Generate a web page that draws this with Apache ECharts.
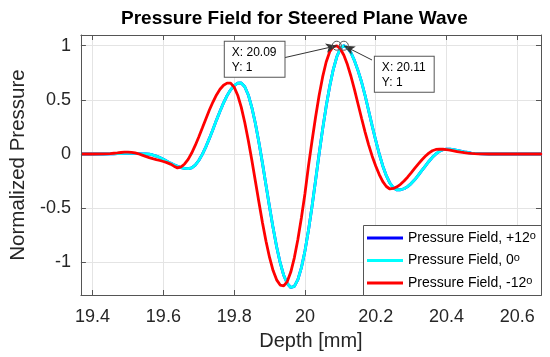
<!DOCTYPE html>
<html><head><meta charset="utf-8">
<script src="https://cdn.jsdelivr.net/npm/echarts@6/dist/echarts.min.js"></script>
<style>html,body{margin:0;padding:0;background:#fff}#c{width:550px;height:357px}</style>
</head><body><div id="c"></div>
<script>
// ---- data ----
const depth = [
  19.37, 19.40, 19.43,
  19.45, 19.46, 19.47, 19.48, 19.49, 19.50, 19.51, 19.52, 19.53, 19.54,
  19.55, 19.56, 19.57, 19.58, 19.59, 19.60, 19.61, 19.62, 19.63, 19.64,
  19.65, 19.66, 19.67, 19.68, 19.69, 19.70, 19.71, 19.72, 19.73, 19.74,
  19.75, 19.76, 19.77, 19.78, 19.79, 19.80, 19.81, 19.82, 19.83, 19.84,
  19.85, 19.86, 19.87, 19.88, 19.89, 19.90, 19.91, 19.92, 19.93, 19.94,
  19.95, 19.96, 19.97, 19.98, 19.99, 20.00, 20.01, 20.02, 20.03, 20.04,
  20.05, 20.06, 20.07, 20.08, 20.09, 20.10, 20.11, 20.12, 20.13, 20.14,
  20.15, 20.16, 20.17, 20.18, 20.19, 20.20, 20.21, 20.22, 20.23, 20.24,
  20.25, 20.26, 20.27, 20.28, 20.29, 20.30, 20.31, 20.32, 20.33, 20.34,
  20.35, 20.36, 20.37, 20.38, 20.39, 20.40, 20.41, 20.42, 20.43, 20.44,
  20.45, 20.46, 20.47, 20.48, 20.49, 20.50,
  20.52, 20.55, 20.60, 20.67
];
// steering 0 degrees (cyan)
const pressureZero = [
  0, 0, 0,
  0.001, 0.002, 0.003, 0.004, 0.005, 0.005, 0.005, 0.005, 0.004, 0.002,
  0.000, -0.002, -0.009, -0.019, -0.033, -0.049, -0.066, -0.084, -0.100, -0.114,
  -0.125, -0.132, -0.135, -0.128, -0.102, -0.060, -0.003, 0.066, 0.144, 0.227,
  0.313, 0.395, 0.472, 0.539, 0.593, 0.632, 0.654, 0.656, 0.621, 0.545,
  0.429, 0.282, 0.107, -0.086, -0.288, -0.489, -0.682, -0.857, -1.004, -1.120,
  -1.196, -1.233, -1.222, -1.160, -1.050, -0.895, -0.705, -0.485, -0.245, 0.000,
  0.230, 0.440, 0.625, 0.780, 0.898, 0.975, 1.000, 0.982, 0.935, 0.862,
  0.770, 0.665, 0.540, 0.400, 0.260, 0.125, 0.000, -0.110, -0.200, -0.268,
  -0.312, -0.332, -0.330, -0.321, -0.301, -0.273, -0.238, -0.198, -0.154, -0.111,
  -0.069, -0.031, 0.001, 0.025, 0.040, 0.045, 0.044, 0.040, 0.034, 0.027,
  0.020, 0.014, 0.009, 0.005, 0.003, 0.001,
  0, 0, 0, 0
];
// steering -12 degrees (red)
const pressureMinus12 = [
  0, 0, 0.001,
  0.004, 0.007, 0.010, 0.014, 0.017, 0.018, 0.016, 0.010, 0.002, -0.010,
  -0.022, -0.033, -0.043, -0.052, -0.060, -0.069, -0.080, -0.093, -0.112, -0.128,
  -0.119, -0.092, -0.049, 0.009, 0.079, 0.157, 0.240, 0.324, 0.406, 0.480,
  0.546, 0.598, 0.635, 0.655, 0.655, 0.618, 0.543, 0.433, 0.291, 0.125,
  -0.058, -0.252, -0.446, -0.634, -0.805, -0.955, -1.076, -1.162, -1.210, -1.218,
  -1.178, -1.090, -0.959, -0.789, -0.588, -0.367, -0.110, 0.120, 0.340, 0.540,
  0.712, 0.850, 0.944, 0.990, 1.000, 0.972, 0.912, 0.826, 0.718, 0.594,
  0.462, 0.330, 0.203, 0.085, -0.020, -0.110, -0.190, -0.255, -0.300, -0.323,
  -0.318, -0.303, -0.280, -0.249, -0.214, -0.174, -0.133, -0.093, -0.055, -0.021,
  0.008, 0.030, 0.042, 0.045, 0.044, 0.040, 0.035, 0.029, 0.023, 0.017,
  0.012, 0.008, 0.005, 0.003, 0.002, 0.001,
  0, 0, 0, 0
];
// steering +12 degrees (blue) coincides with the 0 degree curve and is hidden under it
const pressurePlus12 = pressureZero.slice();

const seriesNames = ['Pressure Field, +12', 'Pressure Field, 0', 'Pressure Field, -12'];
const seriesColors = ['#0000ff', '#00ffff', '#ff0000'];
const xTicks = [19.4, 19.6, 19.8, 20, 20.2, 20.4, 20.6];
const yTicks = [-1, -0.5, 0, 0.5, 1];
const titleText = 'Pressure Field for Steered Plane Wave';
const xName = 'Depth [mm]';
const yName = 'Normalized Pressure';

// ---- chart ----
const FONT = 'Liberation Sans, Arial, Helvetica, sans-serif';
const X_MIN = 19.367, X_MAX = 20.667, Y_MIN = -1.302, Y_MAX = 1.099;
const AXIS_COL = '#555555', TXT_COL = '#262626', GRID_COL = '#e4e4e4';

function pairs(arr) { return depth.map((d, i) => [d, arr[i]]); }
function peakIndex(arr) { let m = 0; arr.forEach((v, i) => { if (v > arr[m]) m = i; }); return m; }

function dataTip(arr, labelPos, arrowStart) {
  const i = peakIndex(arr);
  const pt = [depth[i], arr[i]];
  return {
    markPoint: {
      silent: true, animation: false,
      symbol: 'circle', symbolSize: 9,
      itemStyle: { color: 'rgba(0,0,0,0)', borderColor: '#555', borderWidth: 1 },
      label: {
        show: true, position: labelPos, align: 'left', verticalAlign: 'top',
        formatter: () => 'X: ' + pt[0].toFixed(2) + '\nY: ' + (+pt[1].toFixed(4)),
        fontFamily: FONT, fontSize: 12, lineHeight: 15, color: '#000',
        backgroundColor: '#fff', borderColor: '#555', borderWidth: 1,
        padding: [3, 8, 2, 7]
      },
      data: [{ coord: pt }]
    },
    markLine: {
      silent: true, animation: false,
      symbol: ['none', 'arrow'], symbolSize: [7, 11],
      lineStyle: { color: '#333', width: 1, type: 'solid' },
      itemStyle: { color: '#111' },
      label: { show: false },
      data: [[{ x: arrowStart[0], y: arrowStart[1] }, { coord: pt }]]
    }
  };
}

const series = [pressurePlus12, pressureZero, pressureMinus12].map((arr, k) => Object.assign({
  name: seriesNames[k],
  type: 'line',
  data: pairs(arr),
  showSymbol: false,
  symbol: 'none',
  smooth: false,
  lineStyle: { color: seriesColors[k], width: 2.8 },
  itemStyle: { color: seriesColors[k] },
  z: 2 + k,
  animation: false
}, k === 1 ? dataTip(arr, [36, 16], [372, 60]) : k === 2 ? dataTip(arr, [-107, 1], [283, 58]) : {}));

const baseX = {
  type: 'value', min: X_MIN, max: X_MAX,
  axisLine: { show: true, onZero: false, lineStyle: { color: AXIS_COL, width: 1 } },
  axisTick: { show: true, inside: true, length: 5, customValues: xTicks, lineStyle: { color: AXIS_COL } },
  splitLine: { show: false }
};
const baseY = {
  type: 'value', min: Y_MIN, max: Y_MAX,
  axisLine: { show: true, onZero: false, lineStyle: { color: AXIS_COL, width: 1 } },
  axisTick: { show: true, inside: true, length: 5, customValues: yTicks, lineStyle: { color: AXIS_COL } },
  splitLine: { show: false }
};

const option = {
  backgroundColor: '#fff',
  animation: false,
  title: {
    text: titleText, left: 121, top: 9, padding: 0,
    textStyle: { fontFamily: FONT, fontSize: 19, fontWeight: 'bold', color: '#000' }
  },
  grid: { left: 73, top: 35, width: 468, height: 260, containLabel: false },
  legend: {
    orient: 'vertical', left: 367, top: 230, itemWidth: 36, itemHeight: 3, itemGap: 6.5,
    padding: 0, icon: 'rect',
    data: seriesNames,
    formatter: n => n + '{sup|o}',
    textStyle: {
      fontFamily: FONT, fontSize: 14, lineHeight: 16, color: '#000',
      rich: { sup: { fontFamily: FONT, fontSize: 11, lineHeight: 11, color: '#000', verticalAlign: 'top' } }
    }
  },
  graphic: [{
    type: 'rect', left: 363, top: 225, z: 3, silent: true,
    shape: { width: 178, height: 70 },
    style: { fill: '#fff', stroke: '#555', lineWidth: 1 }
  }],
  xAxis: [
    Object.assign({}, baseX, {
      position: 'bottom',
      name: xName, nameLocation: 'middle', nameGap: 36,
      nameTextStyle: { fontFamily: FONT, fontSize: 20, color: TXT_COL },
      axisLabel: { show: true, customValues: xTicks, margin: 13, fontFamily: FONT, fontSize: 18, color: TXT_COL },
      splitLine: { show: true, customValues: xTicks, lineStyle: { color: GRID_COL, width: 1 } }
    }),
    Object.assign({}, baseX, { position: 'top', axisLabel: { show: false } })
  ],
  yAxis: [
    Object.assign({}, baseY, {
      position: 'left',
      name: yName, nameLocation: 'middle', nameGap: 38,
      nameTextStyle: { fontFamily: FONT, fontSize: 20.5, color: TXT_COL },
      axisLabel: { show: true, customValues: yTicks, margin: 10, fontFamily: FONT, fontSize: 18, color: TXT_COL },
      splitLine: { show: true, customValues: yTicks, lineStyle: { color: GRID_COL, width: 1 } }
    }),
    Object.assign({}, baseY, { position: 'right', axisLabel: { show: false } })
  ],
  series: series
};

const chart = echarts.init(document.getElementById('c'), null, { renderer: 'canvas' });
chart.setOption(option);
</script>
</body></html>
